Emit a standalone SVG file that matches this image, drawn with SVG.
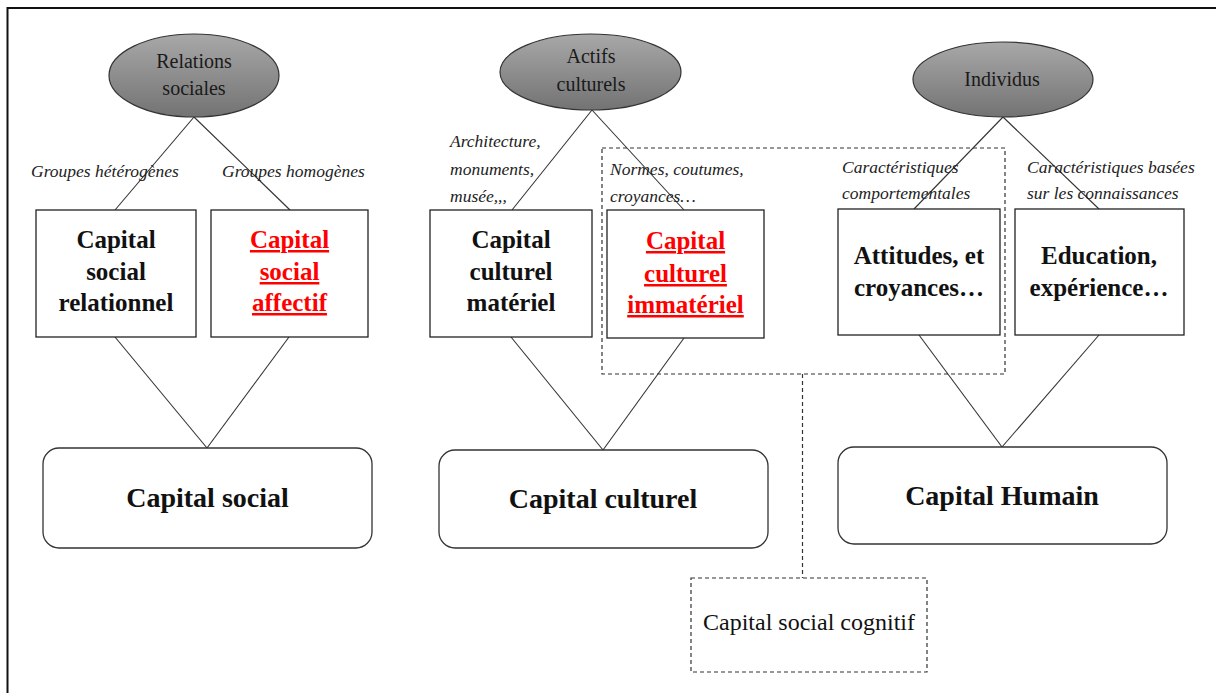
<svg xmlns="http://www.w3.org/2000/svg" width="1216" height="693" viewBox="0 0 1216 693">
<defs>
<linearGradient id="g" x1="0" y1="0" x2="0" y2="1">
<stop offset="0" stop-color="#a8a8a8"/>
<stop offset="1" stop-color="#737373"/>
</linearGradient>
<style>
.ell{fill:url(#g);stroke:#333;stroke-width:1.2}
.box{fill:#fff;stroke:#222;stroke-width:1.3}
.rbox{fill:#fff;stroke:#333;stroke-width:1.3}
.dash{fill:none;stroke:#333;stroke-width:1.2;stroke-dasharray:4 3}
.ln{stroke:#333;stroke-width:1.1;fill:none}
.et{font-family:"Liberation Serif",serif;font-size:20px;fill:#1a1a1a;text-anchor:middle}
.bt{font-family:"Liberation Serif",serif;font-size:25px;font-weight:bold;fill:#111;text-anchor:middle}
.rt{font-family:"Liberation Serif",serif;font-size:25px;font-weight:bold;fill:#ff0000;text-anchor:middle;text-decoration:underline}
.big{font-family:"Liberation Serif",serif;font-size:28px;font-weight:bold;fill:#111;text-anchor:middle}
.it{font-family:"Liberation Serif",serif;font-size:17.5px;font-style:italic;fill:#222}
.reg{font-family:"Liberation Serif",serif;font-size:24px;fill:#111;text-anchor:middle}
</style>
</defs>
<rect width="1216" height="693" fill="#fff"/>
<g id="frame">
<path d="M7.5 693 V8 H1216" fill="none" stroke="#111" stroke-width="2"/>
</g>

<g id="group-dashed">
<rect class="dash" x="602" y="148" width="403" height="226"/>
</g>

<g id="connectors">
<line class="ln" x1="194" y1="117" x2="115" y2="210"/>
<line class="ln" x1="194" y1="117" x2="290" y2="210"/>
<line class="ln" x1="592" y1="110" x2="512" y2="210"/>
<line class="ln" x1="592" y1="110" x2="684" y2="210"/>
<line class="ln" x1="1003" y1="117" x2="914" y2="209"/>
<line class="ln" x1="1003" y1="117" x2="1099" y2="209"/>
<line class="ln" x1="115" y1="337" x2="207" y2="448"/>
<line class="ln" x1="289" y1="337" x2="207" y2="448"/>
<line class="ln" x1="511" y1="337" x2="603" y2="450"/>
<line class="ln" x1="684" y1="338" x2="603" y2="450"/>
<line class="ln" x1="919" y1="335" x2="1002" y2="447"/>
<line class="ln" x1="1099" y1="335" x2="1002" y2="447"/>
<line class="dash" x1="802.5" y1="374" x2="802.5" y2="578"/>
</g>

<g id="labels">
<text class="it" x="31" y="177">Groupes hétérogènes</text>
<text class="it" x="222" y="177">Groupes homogènes</text>
<text class="it" x="450" y="147">Architecture,</text>
<text class="it" x="450" y="175">monuments,</text>
<text class="it" x="450" y="202">musée,,,</text>
<text class="it" x="610" y="175">Normes, coutumes,</text>
<text class="it" x="610" y="202">croyances…</text>
<text class="it" x="842" y="173">Caractéristiques</text>
<text class="it" x="842" y="199">comportementales</text>
<text class="it" x="1027" y="173">Caractéristiques basées</text>
<text class="it" x="1027" y="199">sur les connaissances</text>
</g>

<g id="relations-sociales">
<ellipse class="ell" cx="194" cy="75.5" rx="85" ry="41.5"/>
<text class="et" x="194" y="68">Relations</text>
<text class="et" x="194" y="95">sociales</text>
</g>
<g id="actifs-culturels">
<ellipse class="ell" cx="590.5" cy="72" rx="90.5" ry="38"/>
<text class="et" x="591" y="63">Actifs</text>
<text class="et" x="591" y="91">culturels</text>
</g>
<g id="individus">
<ellipse class="ell" cx="1003" cy="79.5" rx="90" ry="37.5"/>
<text class="et" x="1002" y="86">Individus</text>
</g>

<g id="cs-relationnel">
<rect class="box" x="36" y="210" width="160" height="127"/>
<text class="bt" x="116" y="248">Capital</text>
<text class="bt" x="116" y="280">social</text>
<text class="bt" x="116" y="311">relationnel</text>
</g>
<g id="cs-affectif">
<rect class="box" x="211" y="210" width="157" height="127"/>
<text class="rt" x="289.5" y="248">Capital</text>
<text class="rt" x="289.5" y="280">social</text>
<text class="rt" x="289.5" y="311">affectif</text>
</g>
<g id="cc-materiel">
<rect class="box" x="430" y="210" width="162" height="127"/>
<text class="bt" x="511" y="248">Capital</text>
<text class="bt" x="511" y="280">culturel</text>
<text class="bt" x="511" y="311">matériel</text>
</g>
<g id="cc-immateriel">
<rect class="box" x="607" y="210" width="157" height="128"/>
<text class="rt" x="685.5" y="249">Capital</text>
<text class="rt" x="685.5" y="282">culturel</text>
<text class="rt" x="685.5" y="313">immatériel</text>
</g>
<g id="attitudes">
<rect class="box" x="838" y="209" width="162" height="126"/>
<text class="bt" x="919" y="264">Attitudes, et</text>
<text class="bt" x="919" y="296">croyances…</text>
</g>
<g id="education">
<rect class="box" x="1015" y="209" width="169" height="126"/>
<text class="bt" x="1099" y="264">Education,</text>
<text class="bt" x="1099" y="296">expérience…</text>
</g>

<g id="capital-social">
<rect class="rbox" x="43" y="448" width="329" height="100" rx="16"/>
<text class="big" x="207.5" y="507">Capital social</text>
</g>
<g id="capital-culturel">
<rect class="rbox" x="439" y="450" width="329" height="98" rx="16"/>
<text class="big" x="603" y="508">Capital culturel</text>
</g>
<g id="capital-humain">
<rect class="rbox" x="838" y="447" width="329" height="97" rx="16"/>
<text class="big" x="1002" y="505">Capital Humain</text>
</g>
<g id="cs-cognitif">
<rect class="dash" x="691" y="578" width="236" height="94"/>
<text class="reg" x="809" y="630">Capital social cognitif</text>
</g>
</svg>
